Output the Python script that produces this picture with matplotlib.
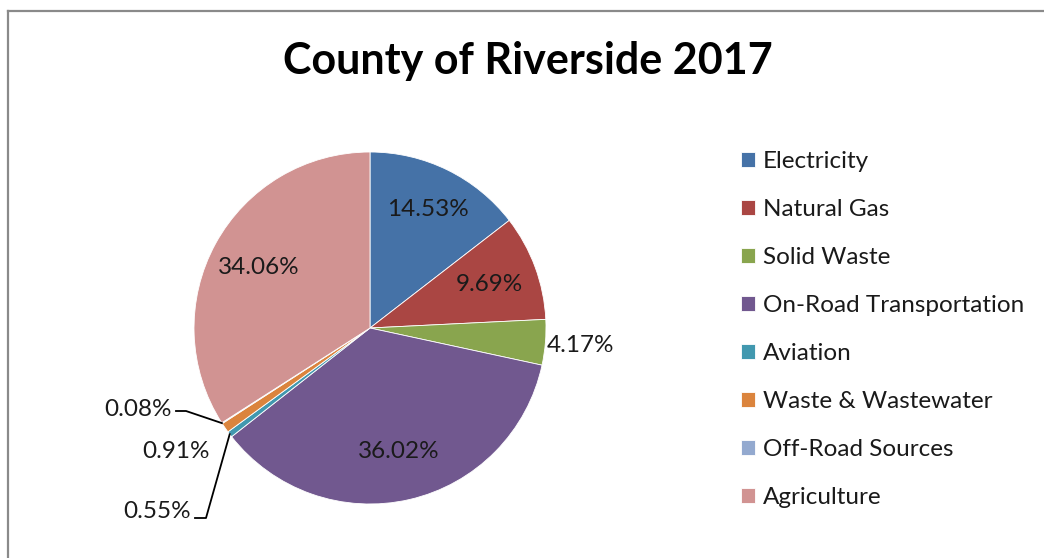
import matplotlib
matplotlib.use("Agg")
from matplotlib import pyplot as plt
from matplotlib.lines import Line2D
import numpy as np

# emissions share by sector, clockwise from 12 o'clock
sectors = ['Electricity', 'Natural Gas', 'Solid Waste', 'On-Road Transportation',
           'Aviation', 'Waste & Wastewater', 'Off-Road Sources', 'Agriculture']
shares = [14.53, 9.69, 4.17, 36.02, 0.55, 0.91, 0.08, 34.06]
colors = ['#4572A7', '#AA4643', '#89A54E', '#71588F',
          '#4198AF', '#DB843D', '#93A9CF', '#D19392']

plt.rcParams['font.family'] = ['Lato', 'DejaVu Sans']
W, H = 1044, 558
fig = plt.figure(figsize=(W / 100, H / 100), dpi=100)
fig.patch.set_facecolor('white')

# pie axes: centre (370, 328) px, radius 176 px
cx, cy, r = 370, 328, 176
ax = fig.add_axes([(cx - r) / W, (H - cy - r) / H, 2 * r / W, 2 * r / H])
wedges, _ = ax.pie(shares, colors=colors, startangle=90, counterclock=False,
                   radius=1, wedgeprops=dict(edgecolor='white', linewidth=0.6))
ax.set_xlim(-1, 1)
ax.set_ylim(-1, 1)
ax.set_aspect('equal')
ax.axis('off')

def mid_angle(i):
    before = sum(shares[:i])
    return np.deg2rad(90 - (before + shares[i] / 2) * 3.6)

def px(x, y):
    # pixel position -> pie data coords
    return (x - cx) / r, (cy - y) / r

FS = 17.5
lbl_font = dict(fontsize=FS, color='#1a1a1a')

# labels placed inside or near their wedge
inside = {0: 0.75, 1: 0.72, 3: 0.72, 7: 0.72, 2: 1.2}
for i, dist in inside.items():
    a = mid_angle(i)
    ax.text(dist * np.cos(a), dist * np.sin(a), f'{shares[i]:.2f}%',
            ha='center', va='center', **lbl_font)

# small slices, labels pulled out to the left
x, y = px(176, 452)
ax.text(x, y, f'{shares[5]:.2f}%', ha='center', va='center', **lbl_font)

leader = dict(color='black', lw=1.3, clip_on=False)
for i, (tx, ty), (hx, hy) in [(6, (172, 410), (186, 411)),
                              (4, (191, 512), (206, 518))]:
    x, y = px(tx, ty)
    ax.text(x, y, f'{shares[i]:.2f}%', ha='right', va='center', **lbl_font)
    a = mid_angle(i)
    sx, sy = px(tx + 4, hy)
    kx, ky = px(hx, hy)
    ax.plot([sx, kx, np.cos(a)], [sy, ky, np.sin(a)], **leader)

fig.text(528 / W, 1 - 61 / H, 'County of Riverside 2017', ha='center', va='center',
         fontsize=31, fontweight='bold', color='black')

fig.legend(wedges, sectors, loc='upper left', bbox_to_anchor=(741 / W, 1 - 151 / H),
           frameon=False, fontsize=FS, handlelength=0.58, handleheight=0.58,
           handletextpad=0.33, labelspacing=1.11, borderaxespad=0, borderpad=0,
           labelcolor='#1a1a1a')

# chart area border, clipped at the right and bottom
fig.add_artist(Line2D([8 / W, 8 / W], [1 - 10.5 / H, 0], color='#8a8a8a', lw=1.6,
                      transform=fig.transFigure))
fig.add_artist(Line2D([8 / W, 1], [1 - 10.5 / H, 1 - 10.5 / H], color='#8a8a8a', lw=1.6,
                      transform=fig.transFigure))

fig.savefig('out.png', dpi=100)
